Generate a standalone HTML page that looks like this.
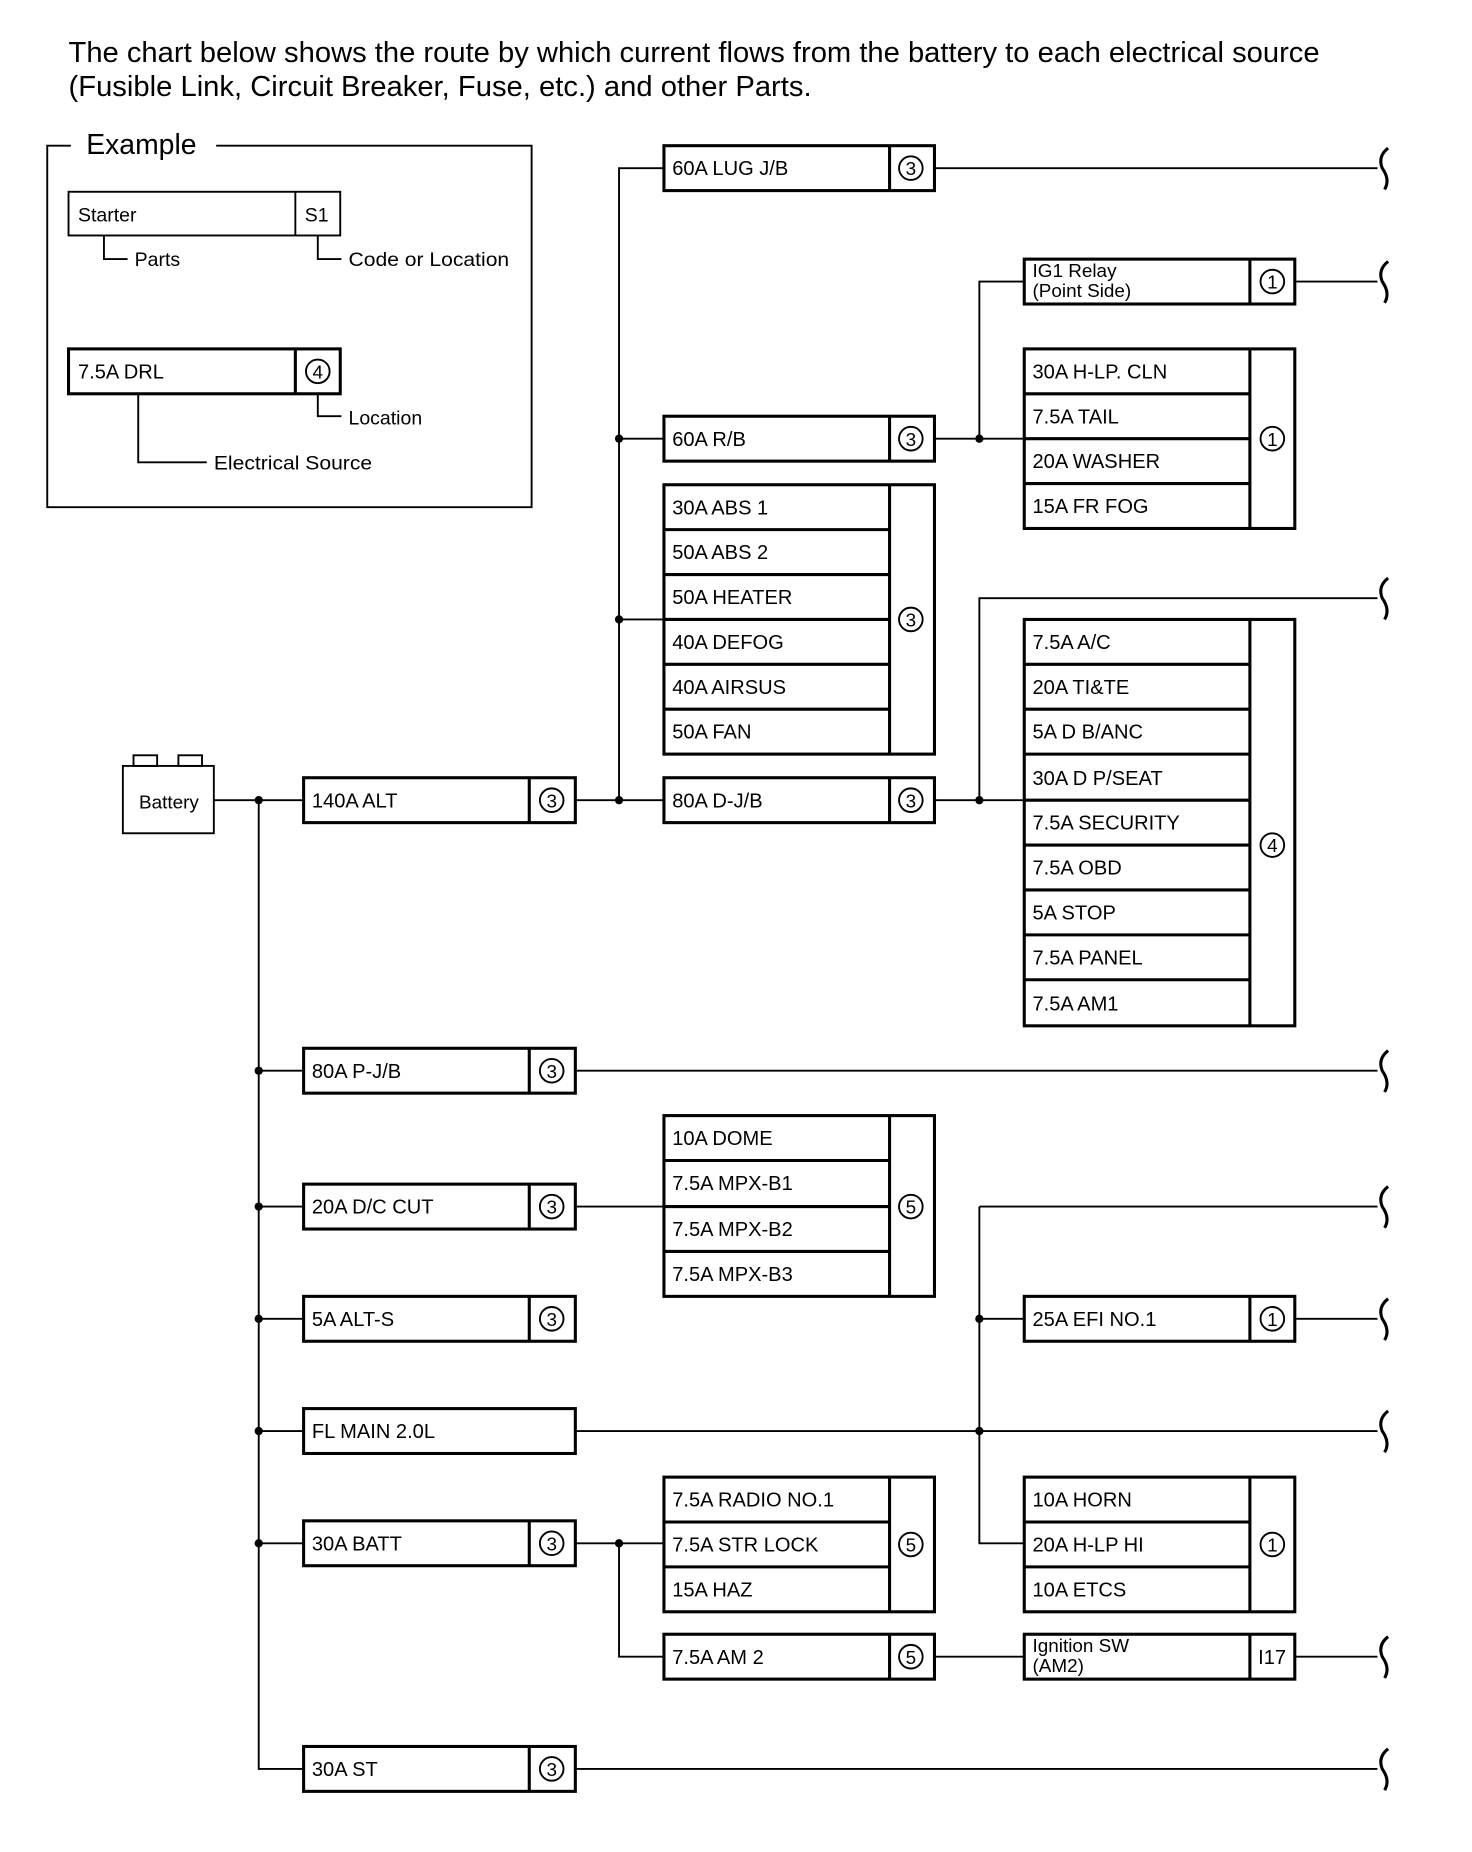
<!DOCTYPE html>
<html><head><meta charset="utf-8"><style>
html,body{margin:0;padding:0;background:#fff}
svg{display:block}
text{font-family:"Liberation Sans",Arial,sans-serif;fill:#000}
.b{fill:none;stroke:#000;stroke-width:2.6}
.l{fill:none;stroke:#000;stroke-width:1.6}
.t{font-size:17px}
.c{font-size:16px;text-anchor:middle}
.d{fill:#000}
</style></head><body>
<svg width="1472" height="1852" viewBox="0 0 1246 1567" xmlns="http://www.w3.org/2000/svg">
<text x="58" y="52" font-size="24" textLength="1059" lengthAdjust="spacingAndGlyphs">The chart below shows the route by which current flows from the battery to each electrical source</text>
<text x="58" y="81" font-size="24" textLength="629" lengthAdjust="spacingAndGlyphs">(Fusible Link, Circuit Breaker, Fuse, etc.) and other Parts.</text>

<!-- Example -->
<path class="l" d="M60,123 H40 V429 H450 V123 H183"/>
<text x="73" y="130" font-size="24">Example</text>
<rect class="l" x="58" y="162" width="230" height="37"/>
<line class="l" x1="250" y1="162" x2="250" y2="199"/>
<text x="66" y="187" font-size="16.5">Starter</text>
<text x="258" y="187" font-size="16.5">S1</text>
<path class="l" d="M88,199 V219 H108"/><text x="114" y="225" font-size="16.5">Parts</text>
<path class="l" d="M269,199 V219 H289"/><text x="295" y="225" font-size="16.5" textLength="136" lengthAdjust="spacingAndGlyphs">Code or Location</text>
<rect class="b" x="58" y="295" width="230" height="38"/>
<line class="b" x1="250" y1="295" x2="250" y2="333"/>
<text x="66" y="320" class="t">7.5A DRL</text>
<circle class="l" cx="269" cy="314" r="10"/><text x="269" y="320" class="c">4</text>
<path class="l" d="M269,333 V352 H289"/><text x="295" y="359" font-size="16.5">Location</text>
<path class="l" d="M117,333 V391 H175"/><text x="181" y="397" font-size="16.5" textLength="134" lengthAdjust="spacingAndGlyphs">Electrical Source</text>

<!-- Battery -->
<rect class="l" x="104" y="648" width="77" height="57"/>
<rect class="l" x="113" y="639" width="20" height="9"/>
<rect class="l" x="151" y="639" width="20" height="9"/>
<text x="143" y="684" font-size="16" text-anchor="middle">Battery</text>

<!-- wires -->
<g class="l">
<path d="M181,677 H257"/>
<path d="M219,677 V1497 H257"/>
<path d="M219,906 H257 M219,1021 H257 M219,1116 H257 M219,1211 H257 M219,1306 H257"/>
<path d="M487,677 H562"/>
<path d="M524,677 V142 H562 M524,371 H562 M524,524 H562"/>
<path d="M791,142 H1166"/>
<path d="M791,371 H867 M829,371 V238 H867 M1096,238 H1166"/>
<path d="M791,677 H867 M829,677 V506 H1166"/>
<path d="M487,906 H1166"/>
<path d="M487,1021 H562"/>
<path d="M487,1211 H1166"/>
<path d="M829,1021 H1166 M829,1021 V1306 H867 M829,1116 H867 M1096,1116 H1166"/>
<path d="M487,1306 H562 M524,1306 V1402 H562"/>
<path d="M791,1402 H867 M1096,1402 H1166"/>
<path d="M487,1497 H1166"/>
</g>
<g class="d">
<circle cx="219" cy="677" r="3.5"/><circle cx="219" cy="906" r="3.5"/><circle cx="219" cy="1021" r="3.5"/><circle cx="219" cy="1116" r="3.5"/><circle cx="219" cy="1211" r="3.5"/><circle cx="219" cy="1306" r="3.5"/>
<circle cx="524" cy="677" r="3.5"/><circle cx="524" cy="371" r="3.5"/><circle cx="524" cy="524" r="3.5"/><circle cx="524" cy="1306" r="3.5"/>
<circle cx="829" cy="371" r="3.5"/><circle cx="829" cy="677" r="3.5"/><circle cx="829" cy="1116" r="3.5"/><circle cx="829" cy="1211" r="3.5"/>
</g>
<!-- braces -->
<g class="b" stroke-width="2.4">
<path d="M1175,125 Q1166,132 1170,142 Q1177,152 1172,160"/>
<path d="M1175,221 Q1166,228 1170,238 Q1177,248 1172,256"/>
<path d="M1175,489 Q1166,496 1170,506 Q1177,516 1172,524"/>
<path d="M1175,889 Q1166,896 1170,906 Q1177,916 1172,924"/>
<path d="M1175,1004 Q1166,1011 1170,1021 Q1177,1031 1172,1039"/>
<path d="M1175,1099 Q1166,1106 1170,1116 Q1177,1126 1172,1134"/>
<path d="M1175,1194 Q1166,1201 1170,1211 Q1177,1221 1172,1229"/>
<path d="M1175,1385 Q1166,1392 1170,1402 Q1177,1412 1172,1420"/>
<path d="M1175,1480 Q1166,1487 1170,1497 Q1177,1507 1172,1515"/>
</g>

<!-- left column boxes -->
<g>
<rect class="b" x="257" y="658" width="230" height="38"/><line class="b" x1="448" y1="658" x2="448" y2="696"/><text x="264" y="683" class="t">140A ALT</text><circle class="l" cx="467" cy="677" r="10"/><text x="467" y="683" class="c">3</text>
<rect class="b" x="257" y="887" width="230" height="38"/><line class="b" x1="448" y1="887" x2="448" y2="925"/><text x="264" y="912" class="t">80A P-J/B</text><circle class="l" cx="467" cy="906" r="10"/><text x="467" y="912" class="c">3</text>
<rect class="b" x="257" y="1002" width="230" height="38"/><line class="b" x1="448" y1="1002" x2="448" y2="1040"/><text x="264" y="1027" class="t">20A D/C CUT</text><circle class="l" cx="467" cy="1021" r="10"/><text x="467" y="1027" class="c">3</text>
<rect class="b" x="257" y="1097" width="230" height="38"/><line class="b" x1="448" y1="1097" x2="448" y2="1135"/><text x="264" y="1122" class="t">5A ALT-S</text><circle class="l" cx="467" cy="1116" r="10"/><text x="467" y="1122" class="c">3</text>
<rect class="b" x="257" y="1192" width="230" height="38"/><text x="264" y="1217" class="t">FL MAIN 2.0L</text>
<rect class="b" x="257" y="1287" width="230" height="38"/><line class="b" x1="448" y1="1287" x2="448" y2="1325"/><text x="264" y="1312" class="t">30A BATT</text><circle class="l" cx="467" cy="1306" r="10"/><text x="467" y="1312" class="c">3</text>
<rect class="b" x="257" y="1478" width="230" height="38"/><line class="b" x1="448" y1="1478" x2="448" y2="1516"/><text x="264" y="1503" class="t">30A ST</text><circle class="l" cx="467" cy="1497" r="10"/><text x="467" y="1503" class="c">3</text>
</g>

<!-- middle column -->
<g>
<rect class="b" x="562" y="123" width="229" height="38"/><line class="b" x1="753" y1="123" x2="753" y2="161"/><text x="569" y="148" class="t">60A LUG J/B</text><circle class="l" cx="771" cy="142" r="10"/><text x="771" y="148" class="c">3</text>
<rect class="b" x="562" y="352" width="229" height="38"/><line class="b" x1="753" y1="352" x2="753" y2="390"/><text x="569" y="377" class="t">60A R/B</text><circle class="l" cx="771" cy="371" r="10"/><text x="771" y="377" class="c">3</text>
<rect class="b" x="562" y="658" width="229" height="38"/><line class="b" x1="753" y1="658" x2="753" y2="696"/><text x="569" y="683" class="t">80A D-J/B</text><circle class="l" cx="771" cy="677" r="10"/><text x="771" y="683" class="c">3</text>
<rect class="b" x="562" y="1383" width="229" height="38"/><line class="b" x1="753" y1="1383" x2="753" y2="1421"/><text x="569" y="1408" class="t">7.5A AM 2</text><circle class="l" cx="771" cy="1402" r="10"/><text x="771" y="1408" class="c">5</text>

<rect class="b" x="562" y="410" width="229" height="228"/><line class="b" x1="753" y1="410" x2="753" y2="638"/>
<path class="b" d="M562,448 H753 M562,486 H753 M562,524 H753 M562,562 H753 M562,600 H753"/>
<text x="569" y="435" class="t">30A ABS 1</text><text x="569" y="473" class="t">50A ABS 2</text><text x="569" y="511" class="t">50A HEATER</text><text x="569" y="549" class="t">40A DEFOG</text><text x="569" y="587" class="t">40A AIRSUS</text><text x="569" y="625" class="t">50A FAN</text>
<circle class="l" cx="771" cy="524" r="10"/><text x="771" y="530" class="c">3</text>

<rect class="b" x="562" y="944" width="229" height="153"/><line class="b" x1="753" y1="944" x2="753" y2="1097"/>
<path class="b" d="M562,982 H753 M562,1021 H753 M562,1059 H753"/>
<text x="569" y="969" class="t">10A DOME</text><text x="569" y="1007" class="t">7.5A MPX-B1</text><text x="569" y="1046" class="t">7.5A MPX-B2</text><text x="569" y="1084" class="t">7.5A MPX-B3</text>
<circle class="l" cx="771" cy="1021" r="10"/><text x="771" y="1027" class="c">5</text>

<rect class="b" x="562" y="1250" width="229" height="114"/><line class="b" x1="753" y1="1250" x2="753" y2="1364"/>
<path class="b" d="M562,1288 H753 M562,1326 H753"/>
<text x="569" y="1275" class="t">7.5A RADIO NO.1</text><text x="569" y="1313" class="t">7.5A STR LOCK</text><text x="569" y="1351" class="t">15A HAZ</text>
<circle class="l" cx="771" cy="1307" r="10"/><text x="771" y="1313" class="c">5</text>
</g>

<!-- right column -->
<g>
<rect class="b" x="867" y="219" width="229" height="38"/><line class="b" x1="1058" y1="219" x2="1058" y2="257"/>
<text x="874" y="234" font-size="16">IG1 Relay</text><text x="874" y="251" font-size="16">(Point Side)</text>
<circle class="l" cx="1077" cy="238" r="10"/><text x="1077" y="244" class="c">1</text>

<rect class="b" x="867" y="295" width="229" height="152"/><line class="b" x1="1058" y1="295" x2="1058" y2="447"/>
<path class="b" d="M867,333 H1058 M867,371 H1058 M867,409 H1058"/>
<text x="874" y="320" class="t">30A H-LP. CLN</text><text x="874" y="358" class="t">7.5A TAIL</text><text x="874" y="396" class="t">20A WASHER</text><text x="874" y="434" class="t">15A FR FOG</text>
<circle class="l" cx="1077" cy="371" r="10"/><text x="1077" y="377" class="c">1</text>

<rect class="b" x="867" y="524" width="229" height="344"/><line class="b" x1="1058" y1="524" x2="1058" y2="868"/>
<path class="b" d="M867,562 H1058 M867,600 H1058 M867,638 H1058 M867,677 H1058 M867,715 H1058 M867,753 H1058 M867,791 H1058 M867,829 H1058"/>
<text x="874" y="549" class="t">7.5A A/C</text><text x="874" y="587" class="t">20A TI&amp;TE</text><text x="874" y="625" class="t">5A D B/ANC</text><text x="874" y="664" class="t">30A D P/SEAT</text><text x="874" y="702" class="t">7.5A SECURITY</text><text x="874" y="740" class="t">7.5A OBD</text><text x="874" y="778" class="t">5A STOP</text><text x="874" y="816" class="t">7.5A PANEL</text><text x="874" y="855" class="t">7.5A AM1</text>
<circle class="l" cx="1077" cy="715" r="10"/><text x="1077" y="721" class="c">4</text>

<rect class="b" x="867" y="1097" width="229" height="38"/><line class="b" x1="1058" y1="1097" x2="1058" y2="1135"/><text x="874" y="1122" class="t">25A EFI NO.1</text><circle class="l" cx="1077" cy="1116" r="10"/><text x="1077" y="1122" class="c">1</text>

<rect class="b" x="867" y="1250" width="229" height="114"/><line class="b" x1="1058" y1="1250" x2="1058" y2="1364"/>
<path class="b" d="M867,1288 H1058 M867,1326 H1058"/>
<text x="874" y="1275" class="t">10A HORN</text><text x="874" y="1313" class="t">20A H-LP HI</text><text x="874" y="1351" class="t">10A ETCS</text>
<circle class="l" cx="1077" cy="1307" r="10"/><text x="1077" y="1313" class="c">1</text>

<rect class="b" x="867" y="1383" width="229" height="38"/><line class="b" x1="1058" y1="1383" x2="1058" y2="1421"/>
<text x="874" y="1398" font-size="16">Ignition SW</text><text x="874" y="1415" font-size="16">(AM2)</text>
<text x="1065" y="1408" class="t">I17</text>
</g>
</svg>
</body></html>
